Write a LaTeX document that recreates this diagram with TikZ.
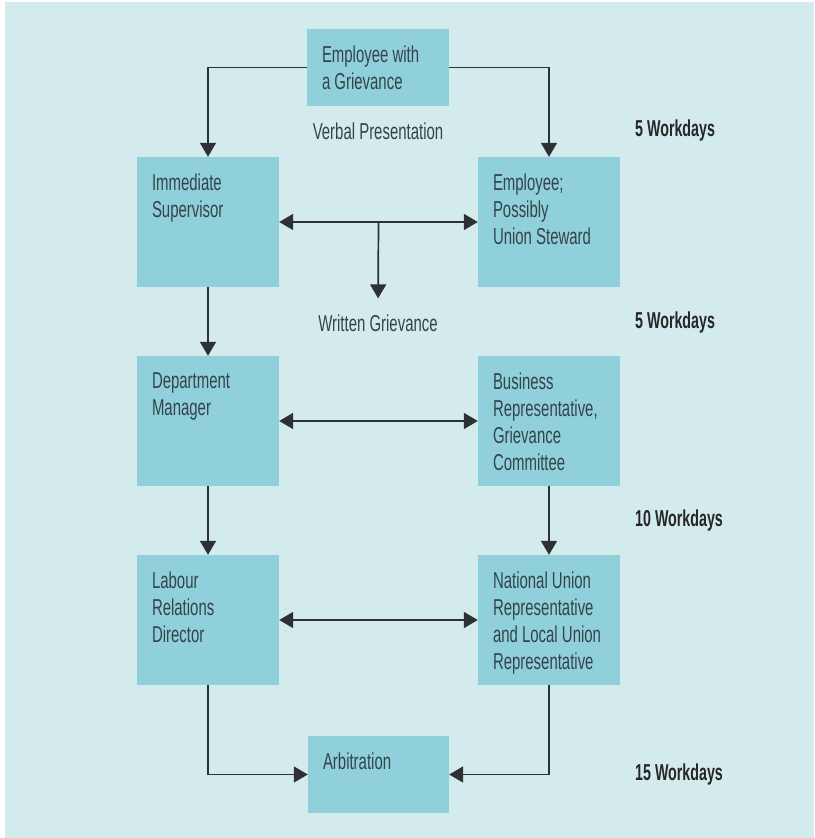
\documentclass[tikz,border=0pt]{standalone}
\usepackage{fontspec}
\setmainfont{Liberation Sans}[FakeStretch=0.65]
\newfontfamily\daysfont{Liberation Sans}[FakeStretch=0.62]
\usetikzlibrary{arrows.meta,calc}
\definecolor{bgblue}{HTML}{D4EBEE}
\definecolor{boxblue}{HTML}{8FD0DA}
\definecolor{ink}{HTML}{34444A}
\definecolor{linegray}{HTML}{2E3133}
\begin{document}
\begin{tikzpicture}[x=1pt,y=-1pt,
  every node/.style={font=\fontsize{23}{27}\selectfont, text=ink},
  box/.style={fill=boxblue, draw=none, inner sep=0pt},
  bigbox/.style={box, minimum width=142pt, minimum height=130pt},
  smallbox/.style={box, minimum width=142pt, minimum height=77pt},
  boxtext/.style={anchor=north west, inner sep=0pt, align=left},
  caption/.style={inner sep=2pt},
  days/.style={anchor=west, inner sep=0pt, font=\daysfont\fontsize{23}{27}\selectfont\bfseries, text=black!85},
  link/.style={draw=linegray, line width=1.7pt, -{Triangle[length=14pt,width=16pt]}},
  both/.style={draw=linegray, line width=1.7pt, {Triangle[length=14pt,width=16pt]}-{Triangle[length=14pt,width=16pt]}}
]
% page and background
\fill[white] (0,0) rectangle (814,838);
\fill[bgblue] (5,2) rectangle (814,838);
\useasboundingbox (0,0) rectangle (814,838);

% boxes
\node[smallbox] (emp) at (378,67.5) {};
\node[bigbox] (sup) at (208,222) {};
\node[bigbox] (stw) at (549,222) {};
\node[bigbox] (dep) at (208,421) {};
\node[bigbox] (bus) at (549,421) {};
\node[bigbox] (lab) at (208,620) {};
\node[bigbox] (nat) at (549,620) {};
\node[smallbox, minimum width=141pt] (arb) at (378.5,774.5) {};

% box texts
\node[boxtext] (empT) at ($(emp.north west)+(15,17)$) {Employee with\\a Grievance};
\node[boxtext] (supT) at ($(sup.north west)+(15,17)$) {Immediate\\Supervisor};
\node[boxtext] (stwT) at ($(stw.north west)+(15,17)$) {Employee;\\Possibly\\Union Steward};
\node[boxtext] (depT) at ($(dep.north west)+(15,17)$) {Department\\Manager};
\node[boxtext] (busT) at ($(bus.north west)+(15,17)$) {Business\\Representative,\\Grievance\\Committee};
\node[boxtext] (labT) at ($(lab.north west)+(15,17)$) {Labour\\Relations\\Director};
\node[boxtext] (natT) at ($(nat.north west)+(15,17)$) {National Union\\Representative\\and Local Union\\Representative};
\node[boxtext] (arbT) at ($(arb.north west)+(15,17)$) {Arbitration};

% captions between the rows
\node[caption] (verbal) at (378,131) {Verbal Presentation};
\node[caption] (written) at (378,323) {Written Grievance};

% time limits
\node[days] (d1) at (635,131) {5 Workdays};
\node[days] (d2) at (635,323) {5 Workdays};
\node[days] (d3) at (635,521) {10 Workdays};
\node[days] (d4) at (635,775) {15 Workdays};

% connectors
\draw[link] (emp.west) -| (sup.north);
\draw[link] (emp.east) -| (stw.north);
\draw[both] (sup.east) -- (stw.west);
\coordinate (split) at ($(sup.east)!0.5!(stw.west)$);
\draw[link, shorten >=14pt] (split) -- (written.north);
\draw[link] (sup.south) -- (dep.north);
\draw[both] (dep.east) -- (bus.west);
\draw[link] (dep.south) -- (lab.north);
\draw[link] (bus.south) -- (nat.north);
\draw[both] (lab.east) -- (nat.west);
\draw[link] (lab.south) |- (arb.west);
\draw[link] (nat.south) |- (arb.east);
\end{tikzpicture}
\end{document}
